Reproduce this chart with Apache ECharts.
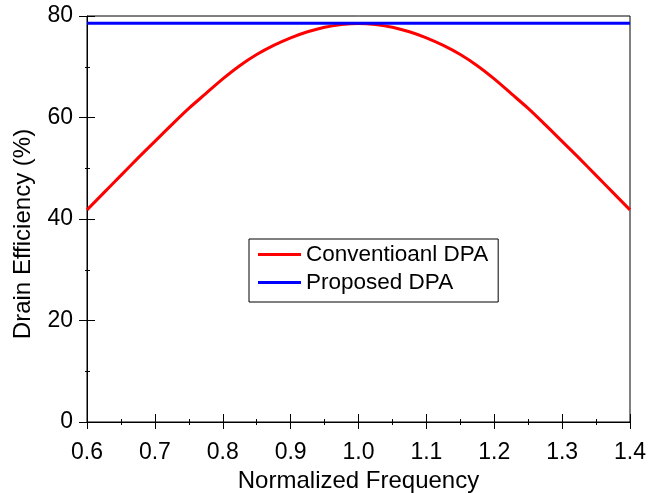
<!DOCTYPE html>
<html>
<head>
<meta charset="utf-8">
<script src="https://cdn.jsdelivr.net/npm/echarts@6/dist/echarts.min.js"></script>
<style>html,body{margin:0;padding:0;background:#fff;}#c{width:666px;height:493px;}</style>
</head>
<body>
<div id="c"></div>
<script>
const freq = [0.6,0.625,0.65,0.675,0.7,0.725,0.75,0.775,0.8,0.825,0.85,0.875,0.9,0.925,0.95,0.975,1.0,
  1.025,1.05,1.075,1.1,1.125,1.15,1.175,1.2,1.225,1.25,1.275,1.3,1.325,1.35,1.375,1.4];
const conventional = [41.8,45.2,48.6,52.0,55.3,58.6,61.8,64.7,67.6,70.2,72.4,74.2,75.7,76.9,77.8,78.3,78.5,
  78.3,77.8,76.9,75.7,74.2,72.4,70.2,67.6,64.7,61.8,58.6,55.3,52.0,48.6,45.2,41.8];
const proposedFreq = [0.6, 1.4];
const proposed = [78.55, 78.55];
const seriesNames = ['Conventioanl DPA', 'Proposed DPA'];
const xTitle = 'Normalized Frequency';
const yTitle = 'Drain Efficiency (%)';

const FONT = 'Liberation Sans, Arial, sans-serif';
const chart = echarts.init(document.getElementById('c'));
const lab = {color:'#000', fontFamily:FONT, fontSize:23};
const ttl = {color:'#000', fontFamily:FONT, fontSize:24};
chart.setOption({
  animation:false,
  grid:{left:87,right:36,top:16,bottom:71,show:true,borderColor:'#000',borderWidth:1,backgroundColor:'transparent',
        containLabel:false, outerBoundsMode:'none'},
  legend:{
    orient:'vertical', left:249, top:239,
    data:seriesNames.map(n=>({name:n,icon:'rect'})),
    itemWidth:43, itemHeight:3, itemGap:5,
    padding:[4,10,8,9],
    borderColor:'#000', borderWidth:1, backgroundColor:'#fff',
    textStyle:{color:'#000',fontFamily:FONT,fontSize:22.5},
    selectedMode:false
  },
  xAxis:[{
    type:'value', min:0.6, max:1.4, interval:0.1, position:'bottom',
    name:xTitle, nameLocation:'middle', nameGap:42, nameTextStyle:ttl,
    axisLine:{lineStyle:{color:'#000',width:1}},
    axisTick:{inside:false,length:7,lineStyle:{color:'#000'}},
    minorTick:{show:true,splitNumber:2,length:3,lineStyle:{color:'#000'}},
    splitLine:{show:false},
    axisLabel:Object.assign({margin:19,formatter:v=>v.toFixed(1)},lab)
  },{
    type:'value', min:0.6, max:1.4, interval:0.1, position:'bottom',
    axisLine:{show:false},
    axisTick:{inside:true,length:8,lineStyle:{color:'#000'}},
    minorTick:{show:true,splitNumber:2,length:3,lineStyle:{color:'#000'}},
    splitLine:{show:false}, axisLabel:{show:false}
  }],
  yAxis:[{
    type:'value', min:0, max:80, interval:20, position:'left',
    name:yTitle, nameLocation:'middle', nameGap:52,
    nameTextStyle:Object.assign({padding:[0,30,0,0]},ttl),
    axisLine:{show:true,lineStyle:{color:'#000',width:1}},
    axisTick:{show:true,inside:false,length:8,lineStyle:{color:'#000'}},
    minorTick:{show:true,splitNumber:2,length:2,lineStyle:{color:'#000'}},
    splitLine:{show:false},
    axisLabel:Object.assign({margin:14},lab)
  },{
    type:'value', min:0, max:80, interval:20, position:'left',
    axisLine:{show:false},
    axisTick:{show:true,inside:true,length:8,lineStyle:{color:'#000'}},
    minorTick:{show:true,splitNumber:2,length:3,lineStyle:{color:'#000'}},
    splitLine:{show:false}, axisLabel:{show:false}
  }],
  series:[{
    name:seriesNames[0], type:'line', xAxisIndex:0, yAxisIndex:0,
    data:freq.map((f,i)=>[f,conventional[i]]),
    smooth:0.3, showSymbol:false, symbol:'none',
    lineStyle:{color:'#ff0000',width:3}, itemStyle:{color:'#ff0000'}
  },{
    name:seriesNames[1], type:'line', xAxisIndex:0, yAxisIndex:0,
    data:proposedFreq.map((f,i)=>[f,proposed[i]]),
    showSymbol:false, symbol:'none',
    lineStyle:{color:'#0000ff',width:3}, itemStyle:{color:'#0000ff'}
  }]
});
</script>
</body>
</html>
